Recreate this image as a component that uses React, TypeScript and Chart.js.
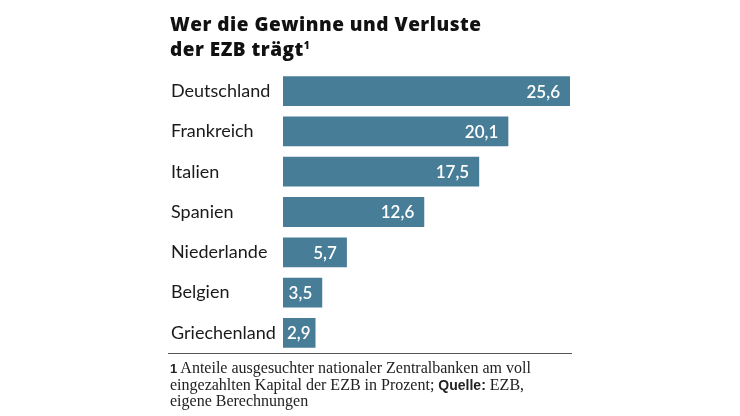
import React, { useEffect, useRef } from "react";
import { Chart, registerables } from "chart.js";

Chart.register(...registerables);

const categories = ["Deutschland", "Frankreich", "Italien", "Spanien", "Niederlande", "Belgien", "Griechenland"];
const shares = [25.6, 20.1, 17.5, 12.6, 5.7, 3.5, 2.9];

const titleLines = ["Wer die Gewinne und Verluste", "der EZB trägt"];
const barColor = "#487d98";

const valueLabels = {
  id: "valueLabels",
  afterDatasetsDraw(chart: any) {
    const ctx = chart.ctx;
    const meta = chart.getDatasetMeta(0);
    ctx.save();
    ctx.fillStyle = "#ffffff";
    ctx.font = "600 17px Lato";
    ctx.textAlign = "left";
    ctx.textBaseline = "middle";
    meta.data.forEach((bar: any, i: number) => {
      const txt = shares[i].toFixed(1).replace(".", ",");
      const w = ctx.measureText(txt).width;
      const x = Math.max(bar.x - 10 - w, bar.base + 4);
      ctx.fillText(txt, x, bar.y + 1);
    });
    ctx.restore();
  },
};

export default function App() {
  const ref = useRef<HTMLCanvasElement | null>(null);
  useEffect(() => {
    if (!ref.current) return;
    const chart = new Chart(ref.current, {
      type: "bar",
      data: {
        labels: categories,
        datasets: [
          {
            data: shares,
            backgroundColor: barColor,
            barPercentage: 0.74,
            categoryPercentage: 1,
          },
        ],
      },
      options: {
        animation: false,
        responsive: false,
        indexAxis: "y",
        layout: { padding: { left: 171, right: 170, top: 71, bottom: 63 } },
        plugins: { legend: { display: false }, tooltip: { enabled: false } },
        scales: {
          x: { display: false, min: 0, max: 25.6 },
          y: {
            grid: { display: false },
            border: { display: false },
            afterFit: (s: any) => {
              s.width = 112;
            },
            ticks: {
              crossAlign: "far",
              color: "#1a1a1a",
              font: { family: "Lato", size: 18 },
              padding: 0,
            },
          },
        },
      },
      plugins: [valueLabels],
    });
    return () => chart.destroy();
  }, []);

  return (
    <div style={{ position: "absolute", left: 0, top: 0, width: 740, height: 416, background: "#fff" }}>
      <canvas ref={ref} width={740} height={416} style={{ position: "absolute", left: 0, top: 0 }} />
      <div
        style={{
          position: "absolute",
          left: 170,
          top: 12,
          fontFamily: "'Open Sans'",
          fontWeight: 800,
          fontSize: 19,
          letterSpacing: "0.5px",
          lineHeight: "25px",
          color: "#111",
          whiteSpace: "nowrap",
        }}
      >
        <div>{titleLines[0]}</div>
        <div>
          {titleLines[1]}
          <sup style={{ fontSize: 10, verticalAlign: "top", position: "relative", top: -4 }}>1</sup>
        </div>
      </div>
      <div style={{ position: "absolute", left: 168, top: 353, width: 404, height: 0, borderTop: "1.5px solid #555" }} />
      <div
        style={{
          position: "absolute",
          left: 170,
          top: 360,
          width: 440,
          fontFamily: "'Liberation Serif'",
          fontSize: 16,
          lineHeight: "15.5px",
          color: "#222",
          whiteSpace: "nowrap",
        }}
      >
        <span style={{ fontFamily: "'Liberation Sans'", fontWeight: 700, fontSize: 13 }}>1</span> Anteile ausgesuchter nationaler Zentralbanken am voll
        <br />
        eingezahlten Kapital der EZB in Prozent; <span style={{ fontFamily: "'Liberation Sans'", fontWeight: 700, fontSize: 14 }}>Quelle:</span> EZB,
        <br />
        eigene Berechnungen
      </div>
    </div>
  );
}
